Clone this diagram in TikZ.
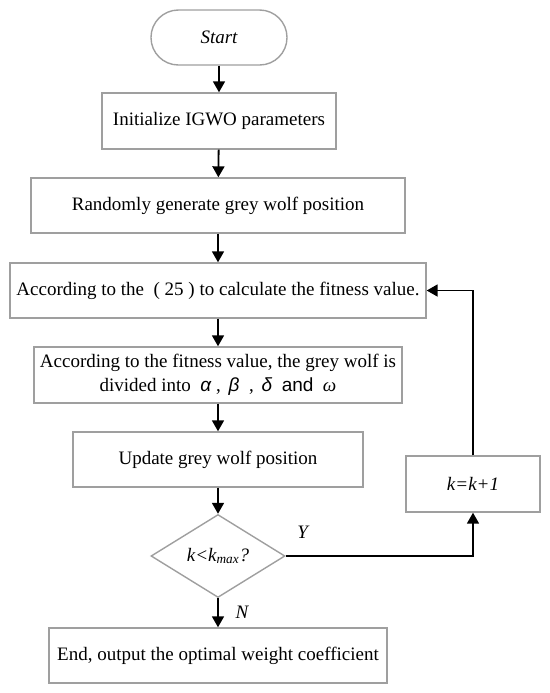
\documentclass[tikz,border=0pt]{standalone}
\usepackage{fontspec}
\setmainfont{Liberation Serif}
\newfontfamily\arialfont{Liberation Sans}
\usepackage{tikz}
\usetikzlibrary{positioning,arrows.meta,shapes.geometric}

\begin{document}
\begin{tikzpicture}[x=0.5pt, y=-0.5pt,
    box/.style={draw=gray!75, line width=0.7pt, minimum height=27.5pt,
                font=\fontsize{9.5}{12}\selectfont, align=center, fill=white, inner sep=2pt},
    term/.style={box, rounded corners=13.7pt, font=\fontsize{9.5}{12}\selectfont\itshape},
    cond/.style={diamond, draw=gray!75, line width=0.7pt, inner sep=0pt,
                minimum width=67pt, minimum height=41.5pt, font=\fontsize{9.5}{11}\selectfont\itshape},
    arrow/.style={-{Triangle[length=5.5pt,width=6pt]}, line width=0.9pt, black},
    lbl/.style={font=\fontsize{9.5}{12}\selectfont\itshape}
]
\useasboundingbox (0,0) rectangle (550,693);
\node[term, minimum width=68pt] (start) at (219,37.5) {Start};
\node[box, minimum width=117pt, minimum height=28pt] (init) at (219,121) {Initialize IGWO parameters};
\node[box, minimum width=187pt] (rand) at (218,205.5) {Randomly generate grey wolf position};
\node[box, minimum width=208pt] (calc) at (218,290.5) {According to the \ ( 25 ) to calculate the fitness value.};
\node[box, minimum width=184pt, minimum height=28pt] (div) at (218,375)
    {According to the fitness value, the grey wolf is\\
     divided into \ {\arialfont\itshape α} , \,{\arialfont\itshape β} \ , \,{\arialfont\itshape δ} \ {\arialfont and} \ {\itshape ω}};
\node[box, minimum width=145pt] (upd) at (218,459.5) {Update grey wolf position};
\node[cond] (test) at (218,556) {k<k\textsubscript{max}?};
\node[box, minimum width=67pt, minimum height=28pt] (inc) at (473,484) {\itshape k=k+1};
\node[box, minimum width=169pt] (stop) at (218,655.5) {End, output the optimal weight coefficient};

\draw[arrow] (start) -- (init);
\draw[arrow] (init) -- (rand);
\draw[arrow] (rand) -- (calc);
\draw[arrow] (calc) -- (div);
\draw[arrow] (div) -- (upd);
\draw[arrow] (upd) -- (test);
\draw[arrow] (test) -- (stop) node[lbl, midway, right=5pt] {N};
\draw[arrow] (test.east) node[lbl, above right=5pt and 2pt] {Y} -| (inc.south);
\draw[arrow] (inc.north) |- (calc.east);
\end{tikzpicture}
\end{document}
